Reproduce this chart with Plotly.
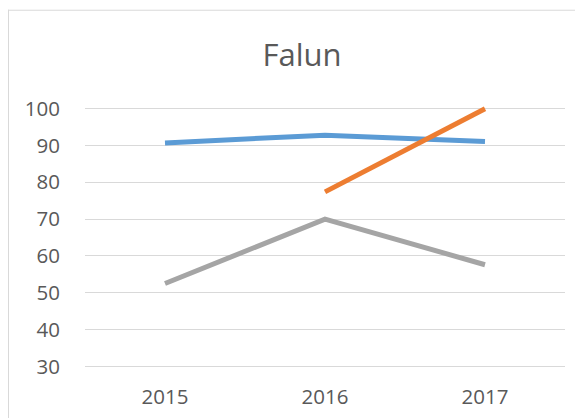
import plotly.graph_objects as go

years = ["2015", "2016", "2017"]
series_blue = [90.7, 92.8, 91.1]
series_orange = [None, 77.4, 100.0]
series_gray = [52.5, 70.0, 57.6]
y_ticks = [30, 40, 50, 60, 70, 80, 90, 100]

OFF = 8  # default page body margin
W, H = 583 - OFF, 418 - OFF
L, R = 85 - OFF, 18
T, B = 105.3 - OFF, 47.6
pw = W - L - R
ph = H - T - B

def px_x(p):
    return (p - OFF - L) / pw

def px_y(p):
    return (H - B - (p - OFF)) / ph

fig = go.Figure()
for vals, col in [(series_blue, "#5B9BD5"), (series_orange, "#ED7D31"), (series_gray, "#A5A5A5")]:
    fig.add_trace(go.Scatter(x=years, y=vals, mode="lines",
                             line=dict(color=col, width=5),
                             connectgaps=False, showlegend=False, hoverinfo="skip"))

fig.update_layout(
    width=W, height=H,
    margin=dict(l=L, r=R, t=T, b=B, autoexpand=False),
    paper_bgcolor="white", plot_bgcolor="white",
    font=dict(family="Open Sans", color="#595959"),
    title=dict(text="Falun", x=(302 - OFF) / W, xanchor="center", y=1 - (55 - OFF) / H,
               yanchor="middle",
               font=dict(size=31, color="#595959", family="Open Sans")),
    xaxis=dict(type="category", range=[-0.5, 2.5], showgrid=False, showline=False,
               zeroline=False, ticks="outside", ticklen=8, tickcolor="rgba(0,0,0,0)",
               automargin=False, tickfont=dict(size=20.5, color="#595959")),
    yaxis=dict(range=[29, 101], tickvals=y_ticks, showgrid=True, gridcolor="#D9D9D9",
               gridwidth=1.3, showline=False, zeroline=False, ticks="outside", ticklen=20,
               automargin=False,
               tickcolor="rgba(0,0,0,0)", tickfont=dict(size=20.5, color="#595959")),
    shapes=[
        dict(type="line", xref="paper", yref="paper", x0=px_x(8), x1=px_x(600),
             y0=px_y(10.5), y1=px_y(10.5), line=dict(color="#D9D9D9", width=1)),
        dict(type="line", xref="paper", yref="paper", x0=px_x(8.5), x1=px_x(8.5),
             y0=px_y(10), y1=px_y(440), line=dict(color="#D9D9D9", width=1)),
    ],
)

fig.write_html("out.html")
